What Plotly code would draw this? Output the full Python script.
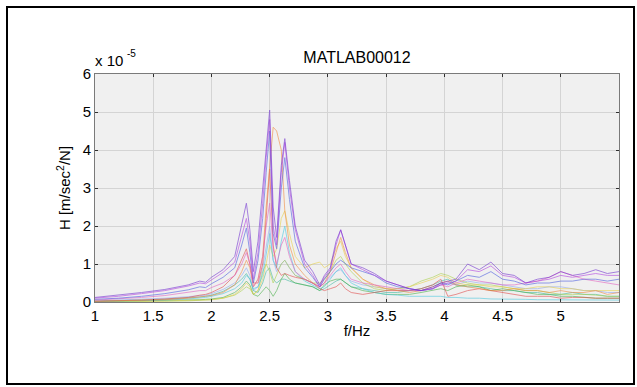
import plotly.graph_objects as go

# Frequency grid (Hz)
freq = [1.0, 1.2, 1.4, 1.6, 1.8,
        1.9, 1.95, 2.0, 2.1, 2.2,
        2.26, 2.3, 2.33, 2.36, 2.4,
        2.44, 2.47, 2.5, 2.53, 2.56,
        2.6, 2.63, 2.67, 2.72, 2.8,
        2.87, 2.93, 2.97, 3.02, 3.07,
        3.11, 3.15, 3.2, 3.3, 3.4,
        3.5, 3.6, 3.7, 3.8, 3.9,
        3.97, 4.03, 4.1, 4.2, 4.3,
        4.4, 4.5, 4.6, 4.7, 4.8,
        4.9, 5.0, 5.1, 5.2, 5.3,
        5.4, 5.5]

# FRF magnitudes, in units of 1e-5 m/sec^2/N
h01 = [0.12, 0.18, 0.25, 0.33, 0.45, 0.55, 0.52, 0.65, 0.85, 1.2,
       2.0, 2.6, 1.9, 0.8, 1.6, 3.0, 4.2, 5.05, 2.5, 1.7,
       3.6, 4.3, 3.2, 2.0, 1.1, 0.8, 0.45, 0.7, 0.9, 1.6,
       1.9, 1.5, 1.0, 0.9, 0.75, 0.55, 0.45, 0.35, 0.3, 0.4,
       0.5, 0.55, 0.6, 1.0, 0.85, 1.05, 0.75, 0.7, 0.5, 0.6,
       0.65, 0.8, 0.7, 0.75, 0.85, 0.75, 0.8]
h02 = [0.1, 0.15, 0.22, 0.3, 0.42, 0.5, 0.48, 0.58, 0.78, 1.05,
       1.7, 2.2, 1.6, 0.6, 1.3, 2.6, 3.8, 4.8, 2.0, 1.5,
       3.4, 4.2, 3.0, 1.9, 1.0, 0.7, 0.4, 0.65, 0.85, 1.5,
       1.9, 1.5, 1.0, 0.85, 0.7, 0.55, 0.45, 0.35, 0.3, 0.35,
       0.45, 0.5, 0.55, 0.85, 0.8, 0.95, 0.7, 0.65, 0.5, 0.55,
       0.6, 0.7, 0.65, 0.7, 0.75, 0.7, 0.7]
h03 = [0.07, 0.1, 0.15, 0.22, 0.32, 0.4, 0.38, 0.48, 0.65, 0.9,
       1.5, 1.95, 1.3, 0.5, 1.1, 2.2, 3.4, 4.5, 1.8, 1.4,
       3.0, 3.8, 2.7, 1.6, 0.9, 0.65, 0.4, 0.6, 0.8, 1.0,
       1.1, 1.0, 0.9, 0.8, 0.7, 0.5, 0.4, 0.35, 0.3, 0.35,
       0.5, 0.45, 0.55, 0.7, 0.65, 0.8, 0.6, 0.55, 0.45, 0.5,
       0.5, 0.55, 0.55, 0.6, 0.6, 0.55, 0.6]
h04 = [0.02, 0.03, 0.04, 0.06, 0.1, 0.13, 0.14, 0.17, 0.25, 0.45,
       0.8, 1.1, 0.9, 0.4, 0.6, 1.2, 2.5, 3.6, 4.6, 4.5,
       4.0, 2.4, 1.5, 1.0, 0.7, 0.5, 0.4, 0.5, 0.8, 1.3,
       1.7, 1.3, 0.9, 0.6, 0.45, 0.35, 0.3, 0.25, 0.3, 0.4,
       0.5, 0.55, 0.45, 0.4, 0.35, 0.3, 0.3, 0.35, 0.3, 0.3,
       0.25, 0.3, 0.25, 0.25, 0.3, 0.2, 0.25]
h05 = [0.02, 0.03, 0.05, 0.08, 0.12, 0.18, 0.2, 0.25, 0.4, 0.7,
       1.1, 1.4, 1.0, 0.5, 0.5, 1.0, 2.2, 3.5, 1.5, 0.9,
       0.7, 0.75, 0.7, 0.65, 0.6, 0.5, 0.35, 0.3, 0.35, 0.4,
       0.5, 0.35, 0.25, 0.2, 0.25, 0.3, 0.3, 0.3, 0.35, 0.45,
       0.6, 0.15, 0.2, 0.3, 0.35, 0.3, 0.25, 0.2, 0.15, 0.15,
       0.15, 0.1, 0.12, 0.12, 0.1, 0.1, 0.1]
h06 = [0.01, 0.02, 0.03, 0.05, 0.08, 0.1, 0.12, 0.15, 0.22, 0.35,
       0.5, 0.7, 0.6, 0.35, 0.4, 0.7, 1.2, 1.8, 1.1, 0.9,
       1.6, 2.0, 1.3, 0.8, 0.55, 0.45, 0.35, 0.4, 0.6, 0.8,
       0.9, 0.7, 0.5, 0.35, 0.25, 0.2, 0.18, 0.15, 0.15, 0.15,
       0.15, 0.12, 0.12, 0.1, 0.1, 0.08, 0.08, 0.07, 0.07, 0.06,
       0.06, 0.05, 0.05, 0.05, 0.05, 0.05, 0.05]
h07 = [0.01, 0.01, 0.02, 0.03, 0.04, 0.05, 0.05, 0.06, 0.1, 0.2,
       0.35, 0.5, 0.4, 0.2, 0.3, 0.6, 1.0, 1.5, 1.2, 1.4,
       2.2, 2.4, 1.8, 1.2, 0.9, 1.0, 1.05, 0.9, 1.0, 1.4,
       1.6, 1.2, 0.9, 0.6, 0.4, 0.35, 0.35, 0.4, 0.5, 0.6,
       0.7, 0.65, 0.5, 0.45, 0.45, 0.4, 0.4, 0.35, 0.35, 0.4,
       0.4, 0.35, 0.35, 0.3, 0.3, 0.3, 0.3]
h08 = [0.01, 0.02, 0.02, 0.03, 0.05, 0.06, 0.07, 0.08, 0.12, 0.25,
       0.4, 0.55, 0.45, 0.2, 0.15, 0.3, 0.4, 0.3, 0.15, 0.3,
       0.6, 0.75, 0.6, 0.5, 0.45, 0.4, 0.3, 0.45, 0.55, 0.6,
       0.6, 0.5, 0.4, 0.3, 0.25, 0.2, 0.2, 0.2, 0.25, 0.3,
       0.35, 0.3, 0.4, 0.45, 0.4, 0.3, 0.35, 0.3, 0.25, 0.2,
       0.2, 0.15, 0.15, 0.12, 0.1, 0.1, 0.1]
h09 = [0.01, 0.01, 0.01, 0.02, 0.03, 0.04, 0.05, 0.06, 0.1, 0.18,
       0.3, 0.4, 0.35, 0.2, 0.3, 0.8, 1.0, 0.8, 0.5, 0.7,
       1.0, 1.1, 0.9, 0.7, 0.6, 0.5, 0.5, 0.6, 0.8, 1.1,
       1.2, 1.0, 0.8, 0.5, 0.35, 0.3, 0.35, 0.4, 0.55, 0.65,
       0.75, 0.7, 0.6, 0.5, 0.45, 0.45, 0.4, 0.35, 0.3, 0.3,
       0.25, 0.2, 0.2, 0.2, 0.18, 0.15, 0.15]
h10 = [0.02, 0.03, 0.05, 0.07, 0.1, 0.13, 0.15, 0.18, 0.28, 0.45,
       0.6, 0.75, 0.6, 0.3, 0.25, 0.5, 0.8, 0.9, 0.6, 0.5,
       0.6, 0.6, 0.55, 0.5, 0.45, 0.4, 0.3, 0.35, 0.45, 0.55,
       0.6, 0.5, 0.4, 0.35, 0.3, 0.25, 0.25, 0.3, 0.35, 0.45,
       0.55, 0.6, 0.45, 0.4, 0.4, 0.35, 0.3, 0.3, 0.25, 0.25,
       0.2, 0.2, 0.25, 0.2, 0.2, 0.15, 0.15]
h11 = [0.05, 0.08, 0.12, 0.17, 0.25, 0.3, 0.3, 0.38, 0.5, 0.7,
       1.0, 1.3, 1.0, 0.4, 0.6, 1.2, 2.0, 2.6, 1.4, 1.0,
       1.5, 1.7, 1.2, 0.8, 0.6, 0.5, 0.4, 0.5, 0.7, 0.9,
       1.0, 0.8, 0.6, 0.5, 0.45, 0.4, 0.35, 0.3, 0.3, 0.35,
       0.45, 0.4, 0.5, 0.6, 0.55, 0.5, 0.45, 0.45, 0.5, 0.55,
       0.65, 0.8, 0.7, 0.6, 0.55, 0.5, 0.45]
h12 = [0.03, 0.05, 0.07, 0.1, 0.14, 0.17, 0.18, 0.22, 0.33, 0.5,
       0.7, 0.9, 0.7, 0.3, 0.4, 0.9, 1.5, 2.0, 1.1, 0.8,
       1.0, 1.1, 0.9, 0.7, 0.6, 0.5, 0.4, 0.5, 0.65, 0.8,
       0.85, 0.7, 0.55, 0.45, 0.4, 0.35, 0.3, 0.3, 0.3, 0.35,
       0.45, 0.5, 0.45, 0.55, 0.5, 0.5, 0.45, 0.4, 0.35, 0.35,
       0.4, 0.4, 0.35, 0.3, 0.3, 0.25, 0.25]

series = [h12, h10, h09, h08, h07, h06, h05, h04, h11, h03, h02, h01]
colors = ["#8fa8f0", "#40b8a0", "#a8d048", "#48b048", "#e8d048", "#48c8e0",
          "#e04848", "#f08a40", "#e060c0", "#4a5ae0", "#b040e0", "#7030d0"]

x_ticks = [1, 1.5, 2, 2.5, 3, 3.5, 4, 4.5, 5]
y_ticks = [0, 1, 2, 3, 4, 5, 6]

W, H = 637, 387
L, R, T, B = 95, 619, 74, 302


def px(x):
    return (x - L) / (R - L)


def py(y):
    return (B - y) / (B - T)


fig = go.Figure()
for vals, col in zip(series, colors):
    fig.add_trace(go.Scatter(x=freq, y=vals, mode="lines",
                             line=dict(color=col, width=0.9), opacity=0.65,
                             showlegend=False, hoverinfo="skip"))

font = "Liberation Sans, Arial, sans-serif"
axis_common = dict(showgrid=True, gridcolor="#d4d4d4", gridwidth=1,
                   zeroline=False, showline=True, linecolor="#7a7a7a",
                   linewidth=1, mirror="ticks", ticks="inside", ticklen=3,
                   tickcolor="#303030", tickfont=dict(family=font, size=15, color="black"))

fig.update_xaxes(range=[1, 5.5], tickvals=x_ticks,
                 ticktext=[f"{v:g}" for v in x_ticks],
                 title=dict(text="f/Hz", font=dict(family=font, size=15, color="black"),
                            standoff=2),
                 **axis_common)
fig.update_yaxes(range=[0, 6], tickvals=y_ticks,
                 ticktext=[str(v) for v in y_ticks],
                 title=dict(text="H [m/sec<sup>2</sup>/N]",
                            font=dict(family=font, size=15, color="black"), standoff=8),
                 **axis_common)

fig.update_layout(
    width=W, height=H,
    margin=dict(l=L, r=W - R, t=T, b=H - B),
    paper_bgcolor="white", plot_bgcolor="#f0f0f0",
    title=dict(text="MATLAB00012", x=px(357), xref="paper", xanchor="center",
               y=1 - 57 / H, yanchor="middle",
               font=dict(family=font, size=16, color="black")),
    annotations=[
        dict(text="x 10", xref="paper", yref="paper", x=px(93), y=py(61),
             xanchor="left", yanchor="middle", showarrow=False,
             font=dict(family=font, size=15, color="black")),
        dict(text="-5", xref="paper", yref="paper", x=px(125), y=py(53),
             xanchor="left", yanchor="middle", showarrow=False,
             font=dict(family=font, size=10, color="black")),
    ],
    shapes=[
        dict(type="rect", xref="paper", yref="paper",
             x0=px(7), x1=px(634), y0=py(384), y1=py(7),
             line=dict(color="black", width=2), fillcolor="rgba(0,0,0,0)",
             layer="below"),
    ],
)

fig.write_html("out.html")
